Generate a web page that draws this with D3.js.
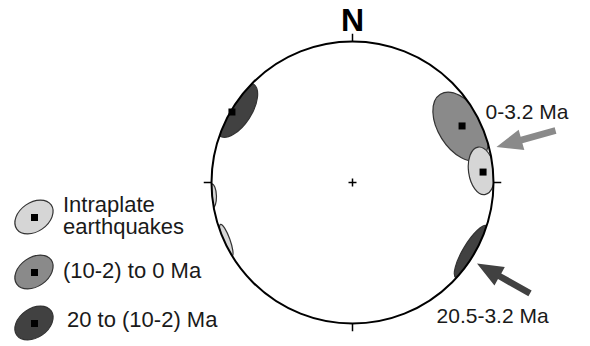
<html>
  <head>
    <script src="https://cdn.jsdelivr.net/npm/d3@7/dist/d3.min.js" charset="UTF-8"></script>
    <style type="text/css">
    body { margin: 0; background: #fff; }
    text { font-family: "Liberation Sans", Arial, sans-serif; fill: #1a1a1a; }
    circle.net { fill: none; stroke: #000; stroke-width: 2; }
    line.tick, line.centre { stroke: #000; stroke-width: 1.5; }
    ellipse.cone { stroke: #333; stroke-width: 1.2; }
    rect.pole { fill: #000; }
    </style>
  </head>
  <body>
    <script type="text/javascript">

      var width = 590;
      var height = 346;

      // net coordinates: -1..1 across the primitive circle, y up
      var groups = ["intraplate", "young", "old"];
      var groupLabels = [["Intraplate", "earthquakes"], ["(10-2) to 0 Ma"], ["20 to (10-2) Ma"]];
      var groupColors = ["#d6d6d6", "#8a8a8a", "#414141"];

      // confidence cones: group, centre x, centre y, semi-axes a,b, rotation (deg)
      var cones = [
        ["old", -0.823, 0.514, 0.22, 0.108, -57],
        ["old", 0.845, -0.492, 0.215, 0.062, 121],
        ["intraplate", -0.995, -0.095, 0.085, 0.03, 88],
        ["intraplate", -0.895, -0.41, 0.12, 0.026, 70],
        ["young", 0.766, 0.397, 0.27, 0.158, 58],
        ["intraplate", 0.915, 0.083, 0.17, 0.092, 82]
      ];

      // mean poles
      var poles = [[-0.855, 0.5], [0.777, 0.401], [0.926, 0.074]];

      // arrows: tail x, tail y, tip x, tip y, colour group, label, label x, label y
      var arrows = [
        [1.44, 0.369, 1.021, 0.252, "young", "0-3.2 Ma", 0.943, 0.447],
        [1.259, -0.787, 0.883, -0.574, "old", "20.5-3.2 Ma", 0.596, -0.993]
      ];

      var cx = 352.5, cy = 182.5, R = 141;

      var x = d3.scaleLinear().domain([-1, 1]).range([cx - R, cx + R]);
      var y = d3.scaleLinear().domain([-1, 1]).range([cy + R, cy - R]);
      var color = d3.scaleOrdinal().domain(groups).range(groupColors);

      var svg = d3.select("body").append("svg")
        .attr("width", width)
        .attr("height", height);

      svg.append("clipPath").attr("id", "netclip")
        .append("circle")
        .attr("cx", x(0)).attr("cy", y(0)).attr("r", R);

      /* Draw cones */
      svg.append("g").attr("clip-path", "url(#netclip)")
        .selectAll("ellipse")
        .data(cones)
        .enter()
        .append("ellipse")
        .attr("class", "cone")
        .attr("rx", function(d) { return x(d[3]) - x(0); })
        .attr("ry", function(d) { return x(d[4]) - x(0); })
        .attr("fill", function(d) { return color(d[0]); })
        .attr("transform", function(d) {
          return "translate(" + x(d[1]) + "," + y(d[2]) + ") rotate(" + d[5] + ")";
        });

      /* Draw poles */
      svg.selectAll("rect.pole")
        .data(poles)
        .enter()
        .append("rect")
        .attr("class", "pole")
        .attr("x", function(d) { return x(d[0]) - 3.5; })
        .attr("y", function(d) { return y(d[1]) - 3.5; })
        .attr("width", 7)
        .attr("height", 7);

      /* Draw primitive circle */
      svg.append("circle")
        .attr("class", "net")
        .attr("cx", x(0)).attr("cy", y(0)).attr("r", R);

      /* Draw ticks */
      var ticks = [[0, 1], [1, 0], [0, -1], [-1, 0]];
      svg.selectAll("line.tick")
        .data(ticks)
        .enter()
        .append("line")
        .attr("class", "tick")
        .attr("x1", function(d) { return x(d[0]); })
        .attr("y1", function(d) { return y(d[1]); })
        .attr("x2", function(d) { return x(d[0] * 1.055); })
        .attr("y2", function(d) { return y(d[1] * 1.055); });

      /* Draw centre cross */
      svg.append("line").attr("class", "centre")
        .attr("x1", x(0) - 4).attr("x2", x(0) + 4).attr("y1", y(0)).attr("y2", y(0));
      svg.append("line").attr("class", "centre")
        .attr("x1", x(0)).attr("x2", x(0)).attr("y1", y(0) - 4).attr("y2", y(0) + 4);

      svg.append("text")
        .attr("x", x(0))
        .attr("y", 31)
        .attr("text-anchor", "middle")
        .style("font-size", "32px")
        .style("font-weight", "bold")
        .style("fill", "#000")
        .text("N");

      /* Draw arrows */
      var ag = svg.selectAll("g.arrow")
        .data(arrows)
        .enter()
        .append("g")
        .attr("class", "arrow");

      ag.each(function(d) {
        var x0 = x(d[0]), y0 = y(d[1]), x1 = x(d[2]), y1 = y(d[3]);
        var ang = Math.atan2(y1 - y0, x1 - x0) * 180 / Math.PI;
        var len = Math.hypot(x1 - x0, y1 - y0);
        var g = d3.select(this).append("g")
          .attr("transform", "translate(" + x0 + "," + y0 + ") rotate(" + ang + ")");
        g.append("path")
          .attr("fill", color(d[4]))
          .attr("d", "M0,-3.3 L" + (len - 26) + ",-3.3 L" + (len - 26) + ",-10.5 L" + len + ",0 L" +
            (len - 26) + ",10.5 L" + (len - 26) + ",3.3 L0,3.3Z");
        d3.select(this).append("text")
          .attr("x", x(d[6]))
          .attr("y", y(d[7]))
          .style("font-size", "21px")
          .text(d[5]);
      });

      /* Draw legend */
      var legendY = [217, 272, 323];
      var legendTextY = [[212, 234], [278], [327]];
      var legendTextX = [63, 63, 67];

      var lg = svg.selectAll("g.legend")
        .data(groups)
        .enter()
        .append("g")
        .attr("class", "legend");

      lg.append("ellipse")
        .attr("class", "cone")
        .attr("rx", 21)
        .attr("ry", 14.5)
        .attr("transform", function(d, i) { return "translate(34," + legendY[i] + ") rotate(-35)"; })
        .attr("fill", function(d) { return color(d); });

      lg.append("rect")
        .attr("class", "pole")
        .attr("x", 31).attr("y", function(d, i) { return legendY[i] - 3; })
        .attr("width", 7).attr("height", 7);

      lg.each(function(d, i) {
        var g = d3.select(this);
        groupLabels[i].forEach(function(s, j) {
          g.append("text")
            .attr("x", legendTextX[i])
            .attr("y", legendTextY[i][j])
            .style("font-size", "22px")
            .text(s);
        });
      });

    </script>
  </body>
</html>
